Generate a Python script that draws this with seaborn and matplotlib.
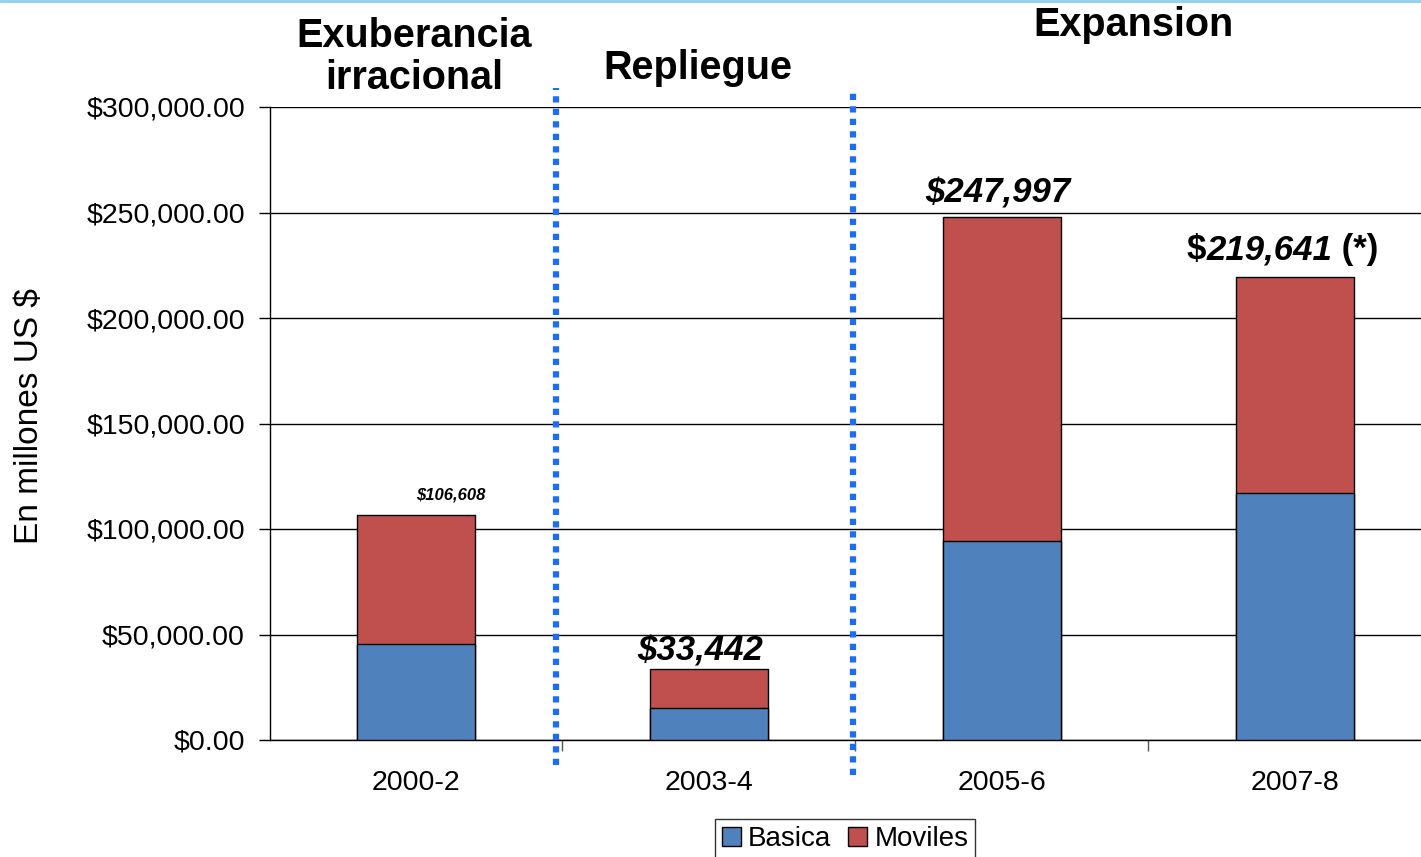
import matplotlib
matplotlib.use("Agg")
import matplotlib.pyplot as plt
import matplotlib.ticker as mticker
from matplotlib.patches import Patch
from matplotlib.lines import Line2D
import pandas as pd
import seaborn as sns

sns.set_style("white")
plt.rcParams['font.family'] = ['Liberation Sans', 'DejaVu Sans']
plt.rcParams.update({"text.color": "black", "axes.labelcolor": "black",
                     "xtick.color": "black", "ytick.color": "black"})

# data (millones US $)
periodos = ["2000-2", "2003-4", "2005-6", "2007-8"]
basica = [45400, 15000, 94200, 116900]
totales = [106608, 33442, 247997, 219641]
moviles = [t - b for t, b in zip(totales, basica)]
etiquetas = ["$106,608", "$33,442", "$247,997", "219,641"]
fases = ["Exuberancia\nirracional", "Repliegue", "Expansion"]

df = pd.DataFrame({"periodo": periodos, "Basica": basica,
                   "Moviles": moviles, "total": totales})

azul = "#4F81BD"
rojo = "#C0504D"

W, H = 1421, 857
fig = plt.figure(figsize=(W / 100, H / 100), dpi=100)
ax = fig.add_axes([270 / W, 1 - 740 / H, (1421 - 270) / W, (740 - 107) / H])

# stacked bars: total in red, basica drawn over it in blue
sns.barplot(data=df, x="periodo", y="total", color=rojo, saturation=1,
            width=0.4, edgecolor="black", linewidth=1, ax=ax, zorder=3)
sns.barplot(data=df, x="periodo", y="Basica", color=azul, saturation=1,
            width=0.4, edgecolor="black", linewidth=1, ax=ax, zorder=4)

ax.set_ylim(0, 300000)
ax.set_xlim(-0.498, 3.43)
ax.yaxis.set_major_locator(mticker.MultipleLocator(50000))
ax.yaxis.set_major_formatter(mticker.StrMethodFormatter("${x:,.2f}"))
ax.set_xlabel("")
ax.set_ylabel("")
ax.grid(axis="y", color="black", linewidth=1, zorder=0)
ax.grid(axis="x", visible=False)
for s in ["top", "right"]:
    ax.spines[s].set_visible(False)
for s in ["left", "bottom"]:
    ax.spines[s].set_color("black")
    ax.spines[s].set_linewidth(1)
ax.tick_params(axis="y", left=True, length=8, width=1, labelsize=20.5, pad=10)
ax.tick_params(axis="x", bottom=False, labelsize=20.5, pad=18)
ax.set_xticks([0.5, 1.5, 2.5], minor=True)
ax.tick_params(axis="x", which="minor", bottom=True, length=8, width=1, color="#555555")

# dotted separators between phases
for xs, y0 in [(0.478, -0.04), (1.49, -0.055)]:
    ax.add_line(Line2D([xs, xs], [y0 * 300000, 1.03 * 300000], color="#1A6EF5",
                       linewidth=4.5, linestyle=(0, (1, 1)), clip_on=False, zorder=6))

# phase titles
fig.text(414 / W, 1 - 57 / H, fases[0], ha="center", va="center",
         fontsize=28.5, fontweight="bold", linespacing=1.15)
fig.text(698 / W, 1 - 68 / H, fases[1], ha="center", va="center",
         fontsize=28.5, fontweight="bold")
fig.text(1134 / W, 1 - 25 / H, fases[2], ha="center", va="center",
         fontsize=28.5, fontweight="bold")

# value labels
ax.text(0.12, totales[0] + 6000, etiquetas[0], ha="center", va="bottom",
        fontsize=12, fontweight="bold", style="italic")
ax.text(0.97, totales[1] + 1000, etiquetas[1], ha="center", va="bottom",
        fontsize=25, fontweight="bold", style="italic")
ax.text(1.985, totales[2] + 3500, etiquetas[2], ha="center", va="bottom",
        fontsize=25, fontweight="bold", style="italic")
t = ax.text(2.912, totales[3] + 5000, etiquetas[3], ha="center", va="bottom",
            fontsize=25, fontweight="bold", style="italic")
ax.annotate("$", xy=(0, 0), xycoords=t, ha="right", va="bottom",
            fontsize=25, fontweight="bold")
ax.annotate(" (*)", xy=(1, 0), xycoords=t, ha="left", va="bottom",
            fontsize=25, fontweight="bold")

# y label
fig.text(30 / W, 1 - 416 / H, "En millones US $", rotation=90, ha="center",
         va="center", fontsize=24)

# legend
handles = [Patch(facecolor=azul, edgecolor="black", label="Basica"),
           Patch(facecolor=rojo, edgecolor="black", label="Moviles")]
leg = fig.legend(handles=handles, loc="upper center", ncol=2,
                 bbox_to_anchor=(845 / W, 1 - 819 / H), fontsize=20,
                 frameon=True, fancybox=False, edgecolor="black",
                 handlelength=0.7, handleheight=0.7, handletextpad=0.25,
                 columnspacing=0.6, borderpad=0.25, borderaxespad=0)
leg.get_frame().set_linewidth(1)

# thin light-blue line along the top edge
fig.add_artist(Line2D([0, 1], [0.999, 0.999], color="#8CCFF0", linewidth=2))

fig.savefig("out.png", dpi=100)
